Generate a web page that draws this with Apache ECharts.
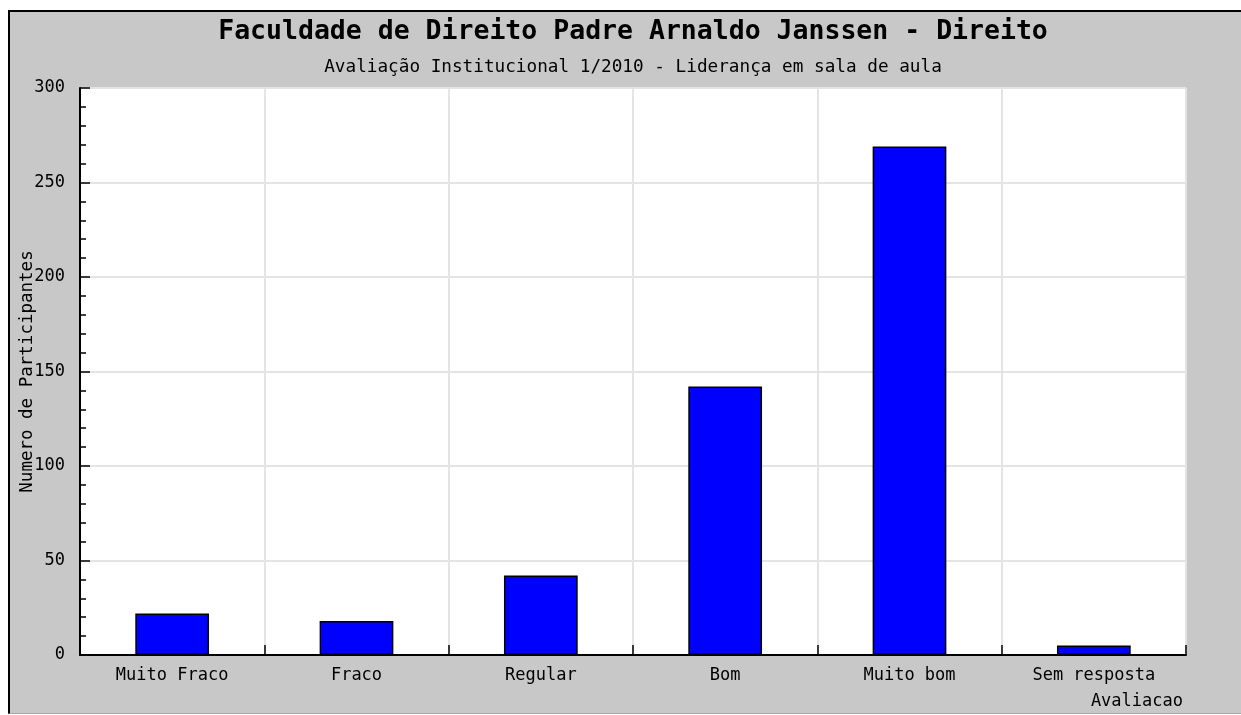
<!DOCTYPE html>
<html>
<head>
<meta charset="utf-8">
<script src="https://cdn.jsdelivr.net/npm/echarts@6/dist/echarts.min.js"></script>
<style>
html,body{margin:0;padding:0;background:#ffffff;width:1241px;height:715px;overflow:hidden;}
#bg{position:absolute;left:8px;top:10px;width:1233px;height:701px;background:#c8c8c8;border-left:2px solid #000;border-top:2px solid #000;border-bottom:1px solid #a8a8a8;}
#chart{position:absolute;left:0;top:0;width:1241px;height:715px;}
</style>
</head>
<body>
<div id="bg"></div>
<div id="chart"></div>
<script>
const titleText = 'Faculdade de Direito Padre Arnaldo Janssen - Direito';
const subtitleText = 'Avaliação Institucional 1/2010 - Liderança em sala de aula';
const categories = ['Muito Fraco', 'Fraco', 'Regular', 'Bom', 'Muito bom', 'Sem resposta'];
const participants = [22, 18, 42, 142, 269, 5];
const yAxisName = 'Numero de Participantes';
const xAxisName = 'Avaliacao';
const yMin = 0, yMax = 300, yStep = 50;

const FONT = '"DejaVu Sans Mono", "Liberation Mono", monospace';
const chart = echarts.init(document.getElementById('chart'), null, {renderer: 'canvas'});
chart.setOption({
  animation: false,
  backgroundColor: 'transparent',
  title: {
    text: titleText,
    subtext: subtitleText,
    left: 633,
    textAlign: 'center',
    top: 19,
    padding: 0,
    itemGap: 12,
    textStyle: {fontFamily: FONT, fontSize: 26.5, fontWeight: 'bold', color: '#000'},
    subtextStyle: {fontFamily: FONT, fontSize: 17.7, color: '#000'}
  },
  grid: {
    left: 80, top: 88, width: 1106, height: 567,
    show: true, backgroundColor: '#ffffff', borderWidth: 0
  },
  xAxis: {
    type: 'category',
    data: categories,
    boundaryGap: true,
    name: xAxisName,
    nameLocation: 'end',
    nameGap: -3,
    nameTextStyle: {fontFamily: FONT, fontSize: 17, color: '#000', align: 'right', verticalAlign: 'top', padding: [38, 0, 0, 0]},
    axisLine: {lineStyle: {color: '#000', width: 2}},
    axisTick: {show: true, inside: true, length: 10, interval: 0, lineStyle: {color: '#000', width: 1.5}},
    axisLabel: {fontFamily: FONT, fontSize: 17, color: '#000', margin: 12, interval: 0},
    splitLine: {show: true, interval: 0, lineStyle: {color: '#e4e4e4', width: 2}}
  },
  yAxis: {
    type: 'value',
    min: yMin, max: yMax, interval: yStep,
    name: yAxisName,
    nameLocation: 'middle',
    nameRotate: 90,
    nameGap: 44,
    nameMoveOverlap: false,
    nameTextStyle: {fontFamily: FONT, fontSize: 17.5, color: '#000'},
    axisLine: {show: true, lineStyle: {color: '#000', width: 2}},
    axisTick: {show: true, inside: true, length: 10, lineStyle: {color: '#000', width: 1.5}},
    minorTick: {show: true, splitNumber: 5, length: 6, lineStyle: {color: '#000', width: 1.5}},
    axisLabel: {fontFamily: FONT, fontSize: 17, color: '#000', margin: 15},
    splitLine: {show: true, lineStyle: {color: '#e4e4e4', width: 2}}
  },
  series: [{
    type: 'bar',
    data: participants,
    barWidth: '40%',
    itemStyle: {color: '#0000ff', borderColor: '#000', borderWidth: 1.5}
  }]
});
</script>
</body>
</html>
